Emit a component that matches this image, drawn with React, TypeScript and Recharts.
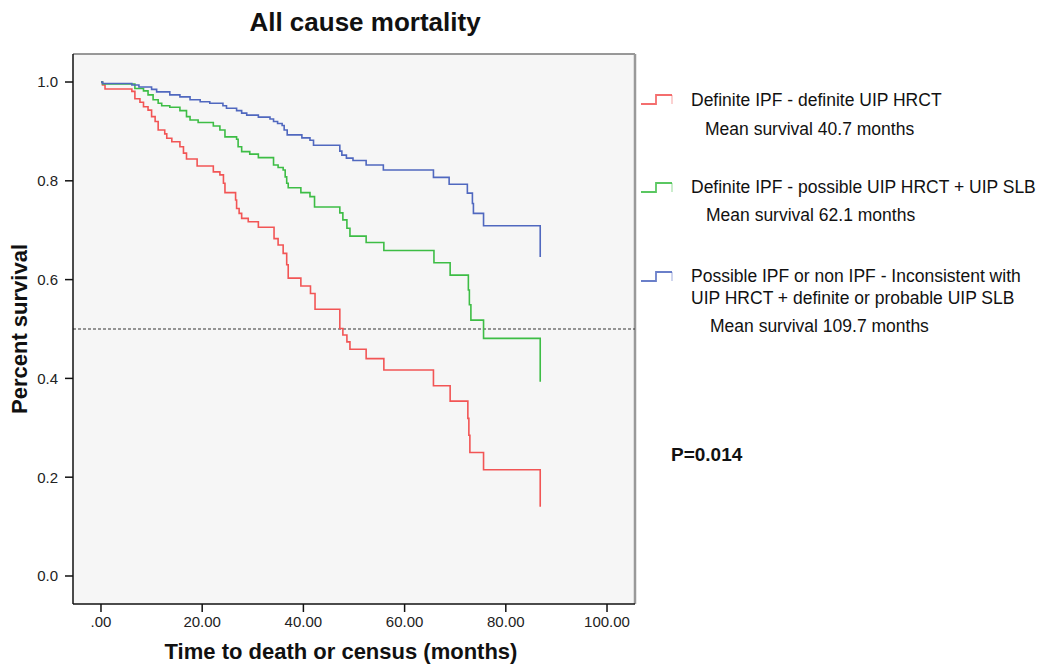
import React from "react";
import { LineChart, Line, XAxis, YAxis, CartesianGrid, ReferenceLine } from "recharts";

const xTicks = [0, 20, 40, 60, 80, 100];
const yTicks = [0, 0.2, 0.4, 0.6, 0.8, 1.0];

const redTimes = [0, 0.3, 0.8, 6.1, 6.7, 7.7, 8.4, 9.3, 10.0, 10.7, 11.3, 12.6, 13.0, 14.0, 15.6, 16.3, 16.9, 19.0, 22.2, 23.5, 24.2, 24.5, 26.6, 26.8, 27.3, 27.8, 29.1, 31.1, 34.2, 35.0, 36.0, 36.7, 37.0, 39.5, 41.4, 42.3, 47.2, 47.8, 48.6, 49.2, 52.4, 55.9, 65.7, 69.0, 72.5, 72.7, 72.9, 75.6, 86.8];
const redSurv = [1.0, 0.994, 0.986, 0.981, 0.966, 0.959, 0.95, 0.943, 0.93, 0.92, 0.903, 0.895, 0.886, 0.879, 0.869, 0.856, 0.844, 0.83, 0.818, 0.812, 0.795, 0.776, 0.761, 0.744, 0.734, 0.724, 0.717, 0.706, 0.683, 0.67, 0.653, 0.63, 0.603, 0.587, 0.572, 0.54, 0.501, 0.488, 0.474, 0.459, 0.44, 0.417, 0.385, 0.354, 0.319, 0.285, 0.25, 0.215, 0.14];

const greenTimes = [0, 0.3, 6.7, 8.4, 9.3, 10.3, 11.3, 12.0, 13.6, 15.6, 16.9, 17.6, 19.2, 22.2, 23.5, 24.5, 26.8, 27.1, 27.8, 29.4, 31.1, 34.1, 35.0, 36.0, 36.4, 36.7, 37.0, 39.5, 41.3, 42.2, 47.2, 47.8, 48.6, 49.2, 52.4, 55.9, 65.8, 69.0, 72.6, 72.8, 73.1, 75.6, 86.8];
const greenSurv = [1.0, 0.996, 0.987, 0.982, 0.974, 0.964, 0.957, 0.952, 0.949, 0.942, 0.93, 0.923, 0.918, 0.911, 0.903, 0.889, 0.884, 0.869, 0.859, 0.854, 0.847, 0.832, 0.827, 0.822, 0.808, 0.795, 0.786, 0.776, 0.768, 0.747, 0.735, 0.721, 0.704, 0.688, 0.675, 0.659, 0.634, 0.609, 0.579, 0.549, 0.518, 0.481, 0.393];

const blueTimes = [0, 0.3, 6.1, 7.5, 10.0, 11.0, 13.6, 15.6, 17.6, 19.6, 21.5, 24.1, 24.8, 26.8, 27.8, 28.8, 31.1, 33.4, 34.1, 34.9, 35.8, 36.2, 36.8, 39.7, 41.3, 42.0, 47.2, 47.6, 48.5, 49.8, 52.4, 55.8, 65.7, 68.8, 72.4, 73.4, 73.6, 75.6, 86.8];
const blueSurv = [1.0, 0.997, 0.994, 0.99, 0.985, 0.98, 0.974, 0.97, 0.964, 0.96, 0.957, 0.952, 0.947, 0.942, 0.937, 0.933, 0.929, 0.925, 0.92, 0.916, 0.912, 0.903, 0.893, 0.887, 0.882, 0.872, 0.86, 0.852, 0.846, 0.841, 0.832, 0.822, 0.807, 0.793, 0.775, 0.754, 0.734, 0.709, 0.646];

const seriesNames = [
  "Definite IPF - definite UIP HRCT",
  "Definite IPF - possible UIP HRCT + UIP SLB",
  "Possible IPF or non IPF - Inconsistent with",
  "UIP HRCT + definite or probable UIP SLB",
];
const meanSurvival = ["Mean survival 40.7 months", "Mean survival 62.1 months", "Mean survival 109.7 months"];

const RED = "#f25555";
const GREEN = "#3dbd45";
const BLUE = "#5068bf";

const X_MIN = -5.53;
const X_MAX = 105.53;
const Y_MIN = -0.0567;
const Y_MAX = 1.0567;

const build = (t: number[], s: number[]) => t.map((v, i) => ({ t: v, s: s[i] }));
const redData = build(redTimes, redSurv);
const greenData = build(greenTimes, greenSurv);
const blueData = build(blueTimes, blueSurv);

const FONT = "'Liberation Sans', Arial, sans-serif";

const StepIcon = ({ color }: { color: string }) => (
  <svg width={34} height={14} style={{ position: "absolute", left: 0, top: 0 }}>
    <path d="M1 11 H16 V2 H32" fill="none" stroke={color} strokeWidth={1.8} opacity={0.85} />
    <path d="M32 2 V11" fill="none" stroke={color} strokeWidth={1.8} opacity={0.3} />
  </svg>
);

export default function App() {
  const text: React.CSSProperties = { position: "absolute", fontFamily: FONT, color: "#111", whiteSpace: "nowrap" };
  return (
    <div style={{ position: "absolute", left: 0, top: 0, width: 1051, height: 664, background: "#fff", overflow: "hidden" }}>
      <LineChart width={1051} height={664} margin={{ top: 54, right: 416, bottom: 0, left: 0 }}>
        <CartesianGrid fill="#f6f6f6" horizontal={false} vertical={false} />
        <XAxis
          dataKey="t"
          type="number"
          domain={[X_MIN, X_MAX]}
          ticks={xTicks}
          allowDataOverflow
          height={60}
          tickSize={8}
          tickMargin={4}
          tickFormatter={(v: number) => (v === 0 ? ".00" : v.toFixed(2))}
          tick={{ fill: "#222", fontSize: 15, fontFamily: FONT }}
          axisLine={{ stroke: "#111", strokeWidth: 1.5 }}
          tickLine={{ stroke: "#111", strokeWidth: 1.5 }}
        />
        <YAxis
          dataKey="s"
          type="number"
          domain={[Y_MIN, Y_MAX]}
          ticks={yTicks}
          allowDataOverflow
          width={73}
          tickSize={8}
          tickMargin={7}
          tickFormatter={(v: number) => v.toFixed(1)}
          tick={{ fill: "#222", fontSize: 15, fontFamily: FONT }}
          axisLine={{ stroke: "#111", strokeWidth: 1.5 }}
          tickLine={{ stroke: "#111", strokeWidth: 1.5 }}
        />
        <ReferenceLine y={Y_MAX} stroke="#777" strokeWidth={1.5} />
        <ReferenceLine x={X_MAX} stroke="#999" strokeWidth={2.5} />
        <ReferenceLine y={0.5} stroke="#333" strokeDasharray="3 2" strokeWidth={1} />
        <Line data={redData} dataKey="s" type="stepAfter" stroke={RED} strokeWidth={1.6} dot={false} isAnimationActive={false} />
        <Line data={greenData} dataKey="s" type="stepAfter" stroke={GREEN} strokeWidth={1.6} dot={false} isAnimationActive={false} />
        <Line data={blueData} dataKey="s" type="stepAfter" stroke={BLUE} strokeWidth={1.6} dot={false} isAnimationActive={false} />
      </LineChart>

      <div style={{ ...text, left: 0, width: 730, top: 7, textAlign: "center", fontSize: 26, fontWeight: "bold", lineHeight: "30px" }}>
        All cause mortality
      </div>
      <div style={{ ...text, left: 73, width: 536, top: 639, textAlign: "center", fontSize: 22, fontWeight: "bold", lineHeight: "26px" }}>
        Time to death or census (months)
      </div>
      <div
        style={{
          ...text,
          left: 20,
          top: 329,
          fontSize: 22,
          fontWeight: "bold",
          lineHeight: "26px",
          transform: "translate(-50%, -50%) rotate(-90deg)",
        }}
      >
        Percent survival
      </div>

      <div style={{ position: "absolute", left: 640, top: 93, width: 34, height: 14 }}>
        <StepIcon color={RED} />
      </div>
      <div style={{ ...text, left: 691, top: 90, fontSize: 17.5, lineHeight: "20px" }}>{seriesNames[0]}</div>
      <div style={{ ...text, left: 705, top: 119, fontSize: 17.5, lineHeight: "20px" }}>{meanSurvival[0]}</div>

      <div style={{ position: "absolute", left: 640, top: 181, width: 34, height: 14 }}>
        <StepIcon color={GREEN} />
      </div>
      <div style={{ ...text, left: 691, top: 177, fontSize: 17.5, lineHeight: "20px" }}>{seriesNames[1]}</div>
      <div style={{ ...text, left: 706, top: 205, fontSize: 17.5, lineHeight: "20px" }}>{meanSurvival[1]}</div>

      <div style={{ position: "absolute", left: 640, top: 270, width: 34, height: 14 }}>
        <StepIcon color={BLUE} />
      </div>
      <div style={{ ...text, left: 691, top: 266, fontSize: 17.5, lineHeight: "20px" }}>{seriesNames[2]}</div>
      <div style={{ ...text, left: 691, top: 288, fontSize: 17.5, lineHeight: "20px" }}>{seriesNames[3]}</div>
      <div style={{ ...text, left: 710, top: 316, fontSize: 17.5, lineHeight: "20px" }}>{meanSurvival[2]}</div>

      <div style={{ ...text, left: 671, top: 444, fontSize: 19, fontWeight: "bold", lineHeight: "22px" }}>P=0.014</div>
    </div>
  );
}
